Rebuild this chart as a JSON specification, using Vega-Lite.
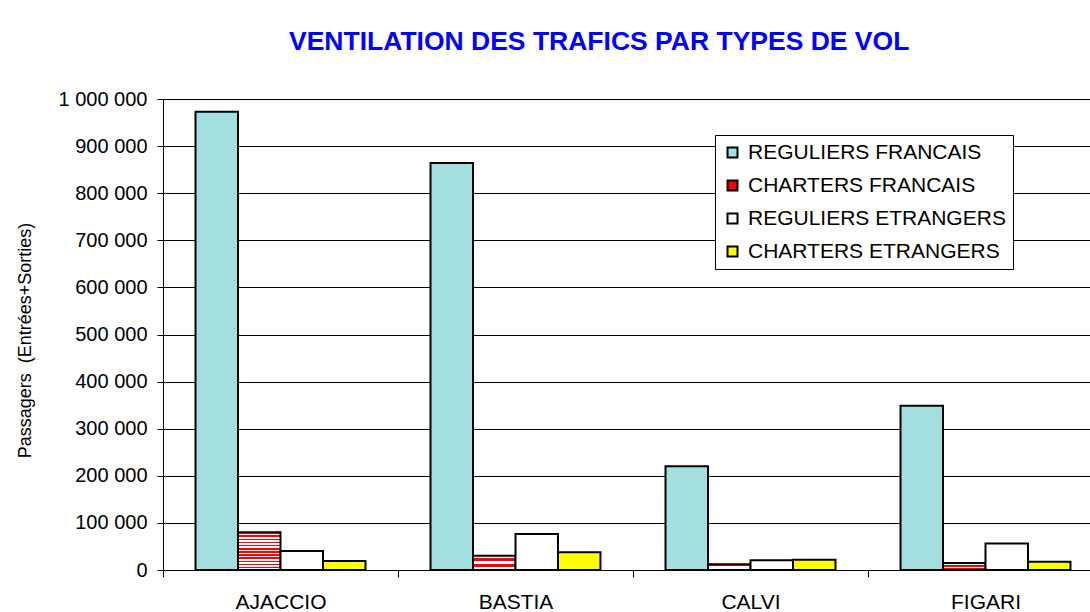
{
  "$schema": "https://vega.github.io/schema/vega-lite/v6.json",
  "autosize": "none",
  "width": 927,
  "height": 471,
  "padding": {"left": 163, "top": 99, "right": 0, "bottom": 42},
  "background": "white",
  "title": {
    "text": "VENTILATION DES TRAFICS PAR TYPES DE VOL",
    "font": "Liberation Sans Narrow, Liberation Sans",
    "fontSize": 26.5,
    "fontWeight": "bold",
    "color": "#0000ff",
    "anchor": "start",
    "frame": "group",
    "dx": 126,
    "offset": 13,
    "baseline": "alphabetic"
  },
  "config": {
    "locale": {"number": {"decimal": ",", "thousands": " ", "grouping": [3], "currency": ["", " €"]}},
    "view": {"stroke": null},
    "font": "Liberation Sans"
  },
  "data": {
    "values": [
      {"aeroport": "AJACCIO", "type": "REGULIERS FRANCAIS", "passagers": 973000},
      {"aeroport": "AJACCIO", "type": "CHARTERS FRANCAIS", "passagers": 80000},
      {"aeroport": "AJACCIO", "type": "REGULIERS ETRANGERS", "passagers": 40500},
      {"aeroport": "AJACCIO", "type": "CHARTERS ETRANGERS", "passagers": 19000},
      {"aeroport": "BASTIA", "type": "REGULIERS FRANCAIS", "passagers": 864000},
      {"aeroport": "BASTIA", "type": "CHARTERS FRANCAIS", "passagers": 30500},
      {"aeroport": "BASTIA", "type": "REGULIERS ETRANGERS", "passagers": 76500},
      {"aeroport": "BASTIA", "type": "CHARTERS ETRANGERS", "passagers": 37500},
      {"aeroport": "CALVI", "type": "REGULIERS FRANCAIS", "passagers": 220500},
      {"aeroport": "CALVI", "type": "CHARTERS FRANCAIS", "passagers": 12000},
      {"aeroport": "CALVI", "type": "REGULIERS ETRANGERS", "passagers": 20500},
      {"aeroport": "CALVI", "type": "CHARTERS ETRANGERS", "passagers": 22000},
      {"aeroport": "FIGARI", "type": "REGULIERS FRANCAIS", "passagers": 348500},
      {"aeroport": "FIGARI", "type": "CHARTERS FRANCAIS", "passagers": 15000},
      {"aeroport": "FIGARI", "type": "REGULIERS ETRANGERS", "passagers": 56000},
      {"aeroport": "FIGARI", "type": "CHARTERS ETRANGERS", "passagers": 17500}
    ]
  },
  "mark": {"type": "bar", "stroke": "black", "strokeWidth": 2, "strokeJoin": "miter"},
  "encoding": {
    "x": {
      "field": "aeroport",
      "type": "nominal",
      "sort": ["AJACCIO", "BASTIA", "CALVI", "FIGARI"],
      "scale": {"range": [0, 940], "paddingInner": 0, "paddingOuter": 0},
      "axis": {
        "title": null,
        "labelAngle": 0,
        "labelFontSize": 21,
        "labelColor": "black",
        "labelPadding": 14,
        "domainColor": "black",
        "domainWidth": 1,
        "tickColor": "black",
        "tickSize": 7,
        "tickBand": "extent",
        "zindex": 1
      }
    },
    "xOffset": {
      "field": "type",
      "type": "nominal",
      "sort": ["REGULIERS FRANCAIS", "CHARTERS FRANCAIS", "REGULIERS ETRANGERS", "CHARTERS ETRANGERS"],
      "scale": {"paddingInner": 0, "paddingOuter": 0.765}
    },
    "y": {
      "field": "passagers",
      "type": "quantitative",
      "scale": {"domain": [0, 1000000], "nice": false},
      "axis": {
        "title": "Passagers\u00a0 (Entrées+Sorties)",
        "titleFontSize": 18,
        "titleFontWeight": "normal",
        "titleColor": "black",
        "titleX": -138,
        "titleY": 241,
        "titleAngle": -90,
        "titleAlign": "center",
        "titleBaseline": "middle",
        "values": [0, 100000, 200000, 300000, 400000, 500000, 600000, 700000, 800000, 900000, 1000000],
        "format": ",d",
        "labelFontSize": 20,
        "labelColor": "black",
        "labelPadding": 10,
        "domainColor": "black",
        "tickColor": "black",
        "tickSize": 6,
        "grid": true,
        "gridColor": "black",
        "gridWidth": 1,
        "gridOpacity": 1
      }
    },
    "fill": {
      "condition": {
        "test": "datum.type === 'CHARTERS FRANCAIS'",
        "value": {"gradient": "linear", "x1": 0, "y1": 0, "x2": 0, "y2": 1, "stops": [
            {"offset": 0, "color": "#ff0000"}, {"offset": 0.042, "color": "#ff0000"}, {"offset": 0.042, "color": "#ffffff"}, {"offset": 0.083, "color": "#ffffff"},
            {"offset": 0.083, "color": "#ff0000"}, {"offset": 0.125, "color": "#ff0000"}, {"offset": 0.125, "color": "#ffffff"}, {"offset": 0.167, "color": "#ffffff"},
            {"offset": 0.167, "color": "#ff0000"}, {"offset": 0.208, "color": "#ff0000"}, {"offset": 0.208, "color": "#ffffff"}, {"offset": 0.25, "color": "#ffffff"},
            {"offset": 0.25, "color": "#ff0000"}, {"offset": 0.292, "color": "#ff0000"}, {"offset": 0.292, "color": "#ffffff"}, {"offset": 0.333, "color": "#ffffff"},
            {"offset": 0.333, "color": "#ff0000"}, {"offset": 0.375, "color": "#ff0000"}, {"offset": 0.375, "color": "#ffffff"}, {"offset": 0.417, "color": "#ffffff"},
            {"offset": 0.417, "color": "#ff0000"}, {"offset": 0.458, "color": "#ff0000"}, {"offset": 0.458, "color": "#ffffff"}, {"offset": 0.5, "color": "#ffffff"},
            {"offset": 0.5, "color": "#ff0000"}, {"offset": 0.542, "color": "#ff0000"}, {"offset": 0.542, "color": "#ffffff"}, {"offset": 0.583, "color": "#ffffff"},
            {"offset": 0.583, "color": "#ff0000"}, {"offset": 0.625, "color": "#ff0000"}, {"offset": 0.625, "color": "#ffffff"}, {"offset": 0.667, "color": "#ffffff"},
            {"offset": 0.667, "color": "#ff0000"}, {"offset": 0.708, "color": "#ff0000"}, {"offset": 0.708, "color": "#ffffff"}, {"offset": 0.75, "color": "#ffffff"},
            {"offset": 0.75, "color": "#ff0000"}, {"offset": 0.792, "color": "#ff0000"}, {"offset": 0.792, "color": "#ffffff"}, {"offset": 0.833, "color": "#ffffff"},
            {"offset": 0.833, "color": "#ff0000"}, {"offset": 0.875, "color": "#ff0000"}, {"offset": 0.875, "color": "#ffffff"}, {"offset": 0.917, "color": "#ffffff"},
            {"offset": 0.917, "color": "#ff0000"}, {"offset": 0.958, "color": "#ff0000"}, {"offset": 0.958, "color": "#ffffff"}, {"offset": 1, "color": "#ffffff"}
          ]}
      },
      "field": "type",
      "type": "nominal",
      "scale": {
        "domain": ["REGULIERS FRANCAIS", "CHARTERS FRANCAIS", "REGULIERS ETRANGERS", "CHARTERS ETRANGERS"],
        "range": ["#a4dfe0", "#ff0000", "#ffffff", "#ffff00"]
      },
      "legend": {
        "title": null,
        "orient": "none",
        "legendX": 552,
        "legendY": 36,
        "fillColor": "white",
        "strokeColor": "black",
        "padding": 7,
        "symbolType": "square",
        "symbolSize": 100,
        "symbolStrokeColor": "black",
        "symbolStrokeWidth": 2,
        "symbolOpacity": 1,
        "labelFontSize": 21,
        "labelColor": "black",
        "labelLimit": 0,
        "labelOffset": 5,
        "rowPadding": 11,
        "zindex": 2
      }
    }
  }
}
